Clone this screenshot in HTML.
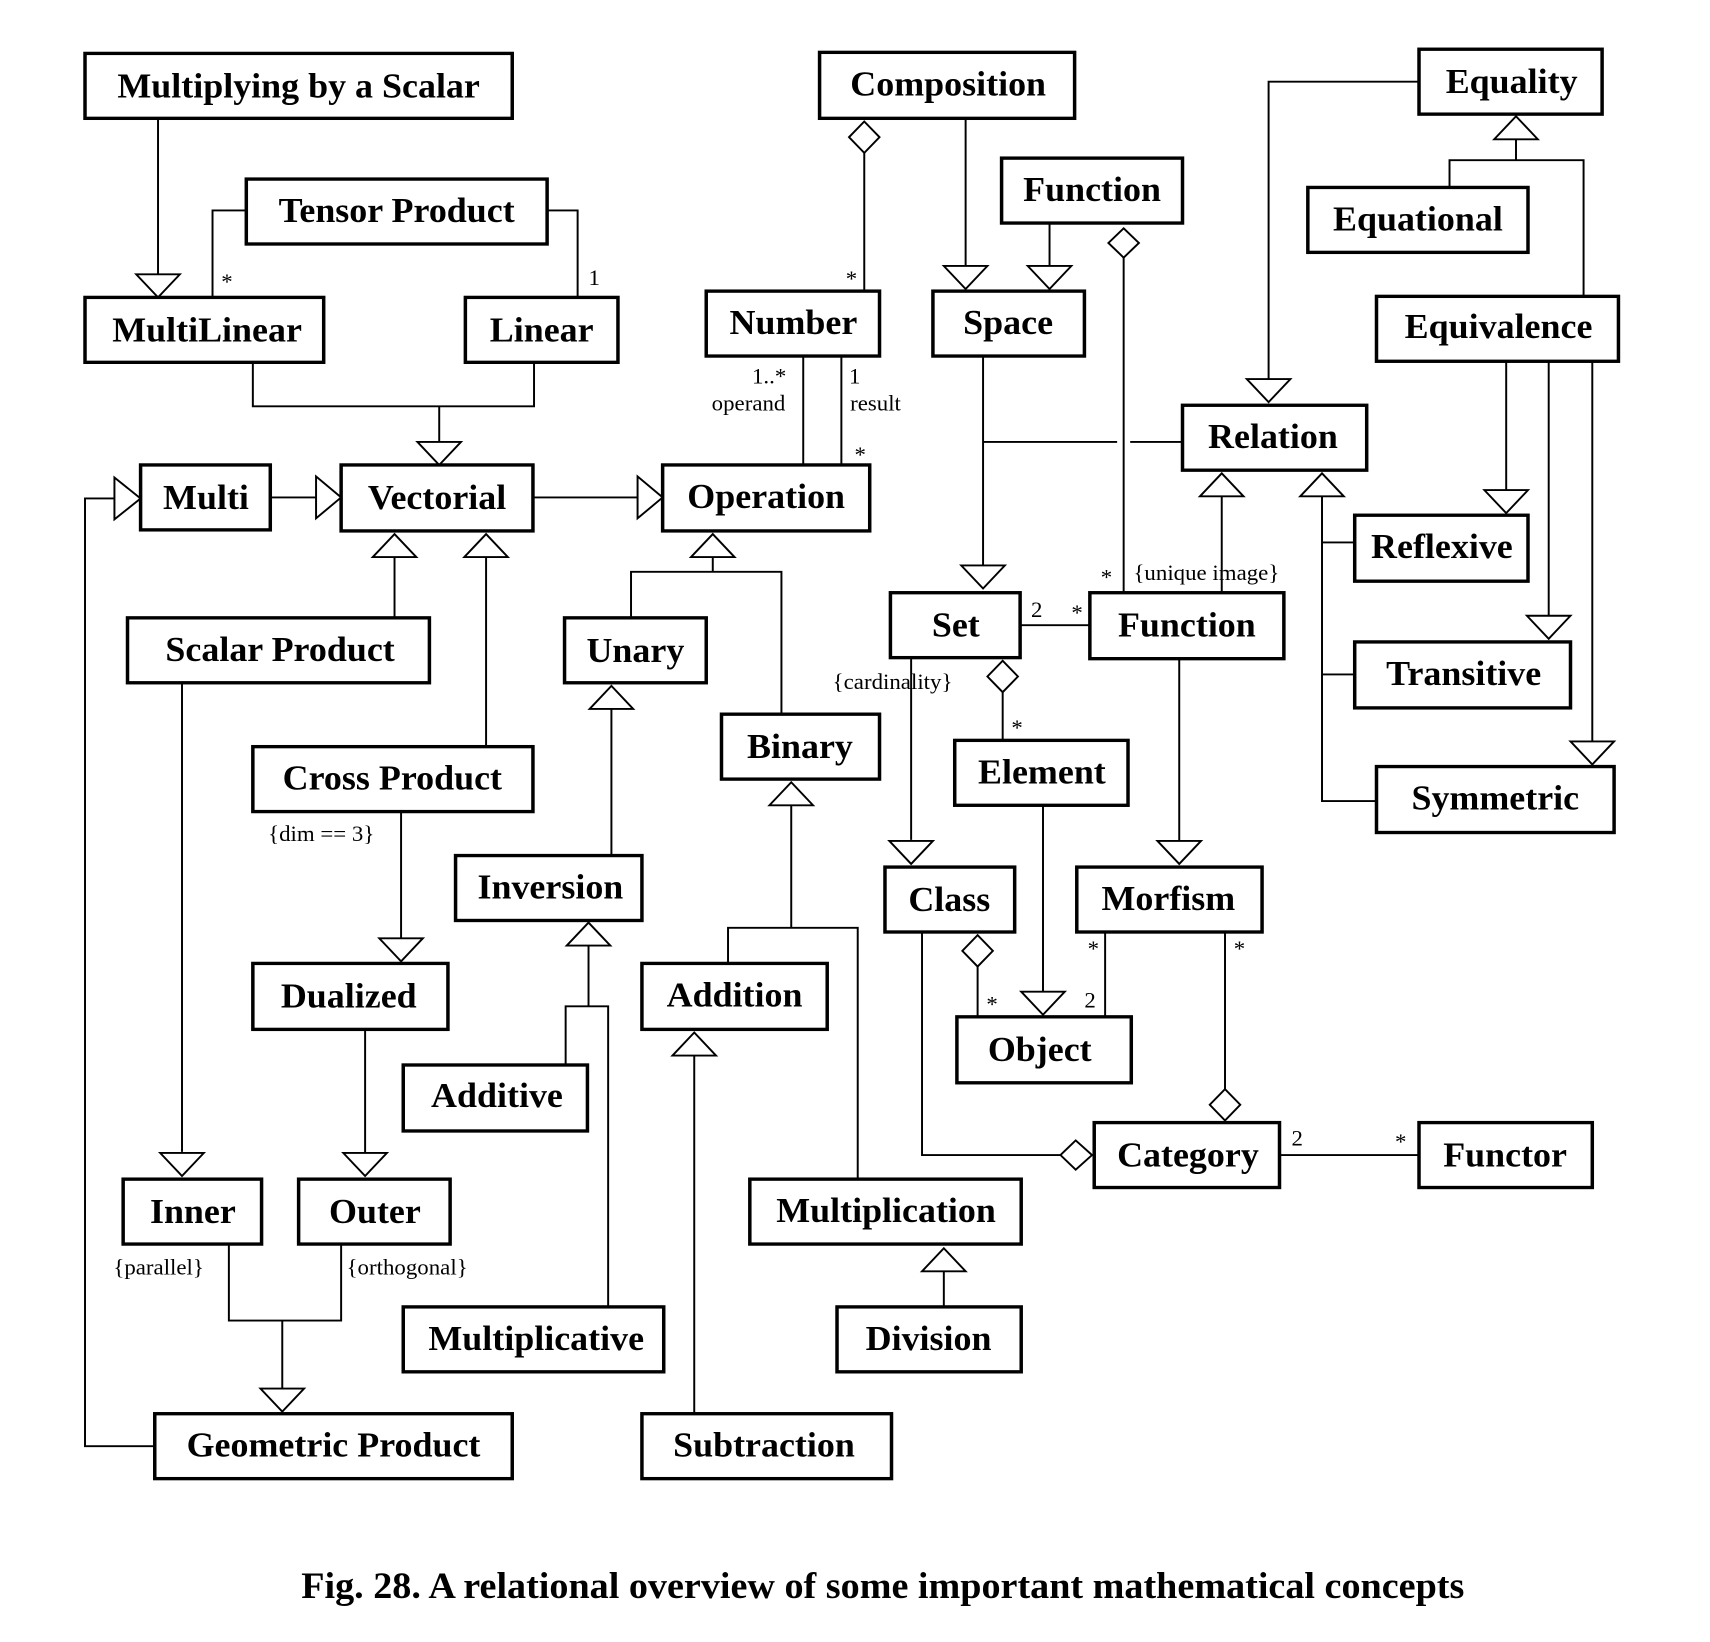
<!DOCTYPE html>
<html><head><meta charset="utf-8"><style>
html,body{margin:0;padding:0;background:#fff;}
svg{display:block;}
.b{fill:#fff;stroke:#000;stroke-width:3.2;}
.t{font-family:"Liberation Serif",serif;font-weight:bold;font-size:33px;text-anchor:middle;}
.l{font-family:"Liberation Serif",serif;font-size:21px;}
.c{fill:none;stroke:#000;stroke-width:1.8;}
.a{fill:#fff;stroke:#000;stroke-width:1.8;}
</style></head><body>
<svg width="1710" height="1642" viewBox="0 0 1569 1568" preserveAspectRatio="none" xmlns="http://www.w3.org/2000/svg">
<g class="c">
<polyline points="145,113 145,262"/>
<polyline points="226,201 195,201 195,284"/>
<polyline points="502,201 530,201 530,284"/>
<polyline points="232,346 232,388 490,388 490,346"/>
<polyline points="403,388 403,422"/>
<polyline points="248,475 290,475"/>
<polyline points="489,475 585,475"/>
<polyline points="142,1381 78,1381 78,476 105,476"/>
<polyline points="793,145 793,278"/>
<polyline points="886,113 886,254"/>
<polyline points="963,213 963,254"/>
<polyline points="1031,246 1031,566"/>
<polyline points="737,340 737,444"/>
<polyline points="772,340 772,444"/>
<polyline points="902,340 902,540"/>
<polyline points="902,422 1025,422"/>
<polyline points="1037,422 1085,422"/>
<polyline points="1302,78 1164,78 1164,362"/>
<polyline points="1330,179 1330,153 1453,153 1453,283"/>
<polyline points="1391,153 1391,133"/>
<polyline points="1382,345 1382,468"/>
<polyline points="1421,345 1421,588"/>
<polyline points="1461,345 1461,708"/>
<polyline points="1121,474 1121,566"/>
<polyline points="1213,474 1213,765 1263,765"/>
<polyline points="1213,518 1243,518"/>
<polyline points="1213,644 1243,644"/>
<polyline points="362,532 362,590"/>
<polyline points="446,532 446,713"/>
<polyline points="654,532 654,546"/>
<polyline points="579,590 579,546 717,546 717,682"/>
<polyline points="167,652 167,1100"/>
<polyline points="368,775 368,896"/>
<polyline points="335,983 335,1101"/>
<polyline points="210,1188 210,1261 313,1261 313,1188"/>
<polyline points="259,1261 259,1326"/>
<polyline points="561,677 561,817"/>
<polyline points="540,903 540,961"/>
<polyline points="519,1017 519,961 558,961 558,1248"/>
<polyline points="726,769 726,886"/>
<polyline points="668,920 668,886 787,886 787,1126"/>
<polyline points="637,1008 637,1350"/>
<polyline points="866,1214 866,1248"/>
<polyline points="936,597 1000,597"/>
<polyline points="920,660 920,707"/>
<polyline points="836,628 836,802"/>
<polyline points="1082,629 1082,803"/>
<polyline points="957,769 957,947"/>
<polyline points="897,922 897,971"/>
<polyline points="1014,890 1014,971"/>
<polyline points="1124,890 1124,1040"/>
<polyline points="846,890 846,1103 973,1103"/>
<polyline points="1174,1103 1302,1103"/>
</g>
<g class="a">
<polygon points="125,262 165,262 145,284"/>
<polygon points="383,422 423,422 403,444"/>
<polygon points="290,455 290,495 313,475"/>
<polygon points="585,455 585,495 608,475"/>
<polygon points="105,456 105,496 129,476"/>
<polygon points="866,254 906,254 886,276"/>
<polygon points="943,254 983,254 963,276"/>
<polygon points="882,540 922,540 902,562"/>
<polygon points="1144,362 1184,362 1164,384"/>
<polygon points="1371,133 1411,133 1391,111"/>
<polygon points="1362,468 1402,468 1382,490"/>
<polygon points="1401,588 1441,588 1421,610"/>
<polygon points="1441,708 1481,708 1461,730"/>
<polygon points="1101,474 1141,474 1121,452"/>
<polygon points="1193,474 1233,474 1213,452"/>
<polygon points="342,532 382,532 362,510"/>
<polygon points="426,532 466,532 446,510"/>
<polygon points="634,532 674,532 654,510"/>
<polygon points="147,1101 187,1101 167,1123"/>
<polygon points="348,896 388,896 368,918"/>
<polygon points="315,1101 355,1101 335,1123"/>
<polygon points="239,1326 279,1326 259,1348"/>
<polygon points="541,677 581,677 561,655"/>
<polygon points="520,903 560,903 540,881"/>
<polygon points="706,769 746,769 726,747"/>
<polygon points="617,1008 657,1008 637,986"/>
<polygon points="846,1214 886,1214 866,1192"/>
<polygon points="816,803 856,803 836,825"/>
<polygon points="1062,803 1102,803 1082,825"/>
<polygon points="937,947 977,947 957,969"/>
<polygon points="793,116 807,131 793,146 779,131"/>
<polygon points="1031,218 1045,232 1031,246 1017,232"/>
<polygon points="920,631 934,646 920,661 906,646"/>
<polygon points="897,893 911,908 897,923 883,908"/>
<polygon points="1124,1040 1138,1055 1124,1070 1110,1055"/>
<polygon points="973,1103 987,1089 1002,1103 987,1117"/>
</g>
<g>
<rect class="b" x="78" y="51" width="392" height="62"/><text class="t" x="274" y="93">Multiplying by a Scalar</text>
<rect class="b" x="226" y="171" width="276" height="62"/><text class="t" x="364" y="212">Tensor Product</text>
<rect class="b" x="78" y="284" width="219" height="62"/><text class="t" x="190" y="326">MultiLinear</text>
<rect class="b" x="427" y="284" width="140" height="62"/><text class="t" x="497" y="326">Linear</text>
<rect class="b" x="752" y="50" width="234" height="63"/><text class="t" x="870" y="91">Composition</text>
<rect class="b" x="919" y="151" width="166" height="62"/><text class="t" x="1002" y="192">Function</text>
<rect class="b" x="648" y="278" width="159" height="62"/><text class="t" x="728" y="319">Number</text>
<rect class="b" x="856" y="278" width="139" height="62"/><text class="t" x="925" y="319">Space</text>
<rect class="b" x="1302" y="47" width="168" height="62"/><text class="t" x="1387" y="89">Equality</text>
<rect class="b" x="1200" y="179" width="202" height="62"/><text class="t" x="1301" y="220">Equational</text>
<rect class="b" x="1263" y="283" width="222" height="62"/><text class="t" x="1375" y="323">Equivalence</text>
<rect class="b" x="1085" y="387" width="169" height="62"/><text class="t" x="1168" y="428">Relation</text>
<rect class="b" x="129" y="444" width="119" height="62"/><text class="t" x="189" y="486">Multi</text>
<rect class="b" x="313" y="444" width="176" height="63"/><text class="t" x="401" y="486">Vectorial</text>
<rect class="b" x="608" y="444" width="190" height="63"/><text class="t" x="703" y="485">Operation</text>
<rect class="b" x="1243" y="492" width="159" height="63"/><text class="t" x="1323" y="533">Reflexive</text>
<rect class="b" x="117" y="590" width="277" height="62"/><text class="t" x="257" y="631">Scalar Product</text>
<rect class="b" x="518" y="590" width="130" height="62"/><text class="t" x="583" y="632">Unary</text>
<rect class="b" x="817" y="566" width="119" height="62"/><text class="t" x="877" y="608">Set</text>
<rect class="b" x="1000" y="566" width="178" height="63"/><text class="t" x="1089" y="608">Function</text>
<rect class="b" x="1243" y="613" width="198" height="63"/><text class="t" x="1343" y="654">Transitive</text>
<rect class="b" x="662" y="682" width="145" height="62"/><text class="t" x="734" y="724">Binary</text>
<rect class="b" x="232" y="713" width="257" height="62"/><text class="t" x="360" y="754">Cross Product</text>
<rect class="b" x="876" y="707" width="159" height="62"/><text class="t" x="956" y="748">Element</text>
<rect class="b" x="1263" y="732" width="218" height="63"/><text class="t" x="1372" y="773">Symmetric</text>
<rect class="b" x="418" y="817" width="171" height="62"/><text class="t" x="505" y="858">Inversion</text>
<rect class="b" x="812" y="828" width="119" height="62"/><text class="t" x="871" y="870">Class</text>
<rect class="b" x="988" y="828" width="170" height="62"/><text class="t" x="1072" y="869">Morfism</text>
<rect class="b" x="232" y="920" width="179" height="63"/><text class="t" x="320" y="962">Dualized</text>
<rect class="b" x="589" y="920" width="170" height="63"/><text class="t" x="674" y="961">Addition</text>
<rect class="b" x="878" y="971" width="160" height="63"/><text class="t" x="954" y="1013">Object</text>
<rect class="b" x="370" y="1017" width="169" height="63"/><text class="t" x="456" y="1057">Additive</text>
<rect class="b" x="1004" y="1072" width="170" height="62"/><text class="t" x="1090" y="1114">Category</text>
<rect class="b" x="1302" y="1072" width="159" height="62"/><text class="t" x="1381" y="1114">Functor</text>
<rect class="b" x="113" y="1126" width="127" height="62"/><text class="t" x="177" y="1168">Inner</text>
<rect class="b" x="274" y="1126" width="139" height="62"/><text class="t" x="344" y="1168">Outer</text>
<rect class="b" x="688" y="1126" width="249" height="62"/><text class="t" x="813" y="1167">Multiplication</text>
<rect class="b" x="370" y="1248" width="239" height="62"/><text class="t" x="492" y="1289">Multiplicative</text>
<rect class="b" x="768" y="1248" width="169" height="62"/><text class="t" x="852" y="1289">Division</text>
<rect class="b" x="142" y="1350" width="328" height="62"/><text class="t" x="306" y="1391">Geometric Product</text>
<rect class="b" x="589" y="1350" width="229" height="62"/><text class="t" x="701" y="1391">Subtraction</text>
</g>
<g class="l">
<text x="203" y="276">*</text>
<text x="540" y="272">1</text>
<text x="776" y="273">*</text>
<text x="690" y="366">1..*</text>
<text x="653" y="392">operand</text>
<text x="779" y="366">1</text>
<text x="780" y="392">result</text>
<text x="784" y="441">*</text>
<text x="1010" y="558">*</text>
<text x="1040" y="554">{unique image}</text>
<text x="946" y="589">2</text>
<text x="983" y="592">*</text>
<text x="764" y="658">{cardinality}</text>
<text x="928" y="702">*</text>
<text x="246" y="803">{dim == 3}</text>
<text x="998" y="913">*</text>
<text x="1132" y="913">*</text>
<text x="905" y="966">*</text>
<text x="995" y="962">2</text>
<text x="1185" y="1094">2</text>
<text x="1280" y="1097">*</text>
<text x="104" y="1217">{parallel}</text>
<text x="318" y="1217">{orthogonal}</text>
</g>
<text x="810" y="1526" style="font-family:'Liberation Serif',serif;font-weight:bold;font-size:35px;text-anchor:middle;">Fig. 28. A relational overview of some important mathematical concepts</text>
</svg>
</body></html>
